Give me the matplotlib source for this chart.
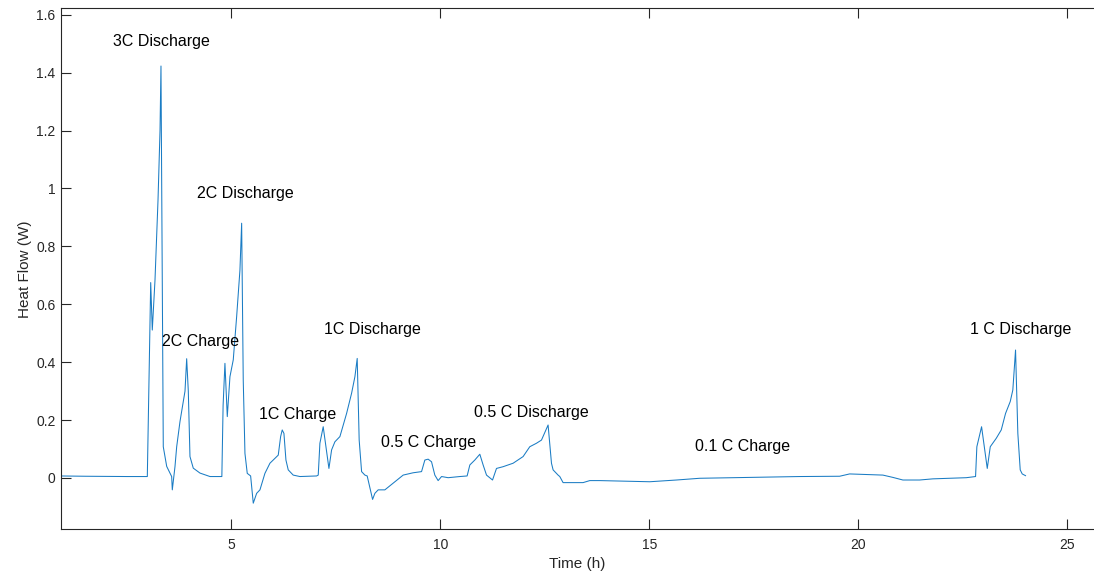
import matplotlib
matplotlib.use("Agg")
import matplotlib.pyplot as plt

# Calorimeter heat flow over a sequence of charge / discharge steps
time_h = [
    0.90, 1.50, 2.50, 2.986, 3.067, 3.105, 3.170, 3.242, 3.290, 3.313,
    3.344, 3.368, 3.450, 3.529, 3.569, 3.584, 3.648, 3.689, 3.768, 3.847,
    3.888, 3.928, 3.967, 4.007, 4.086, 4.246, 4.486, 4.770, 4.800, 4.844,
    4.900, 4.964, 5.043, 5.124, 5.203, 5.244, 5.282, 5.323, 5.378, 5.459,
    5.522, 5.603, 5.682, 5.801, 5.921, 6.120, 6.177, 6.215, 6.256, 6.304,
    6.359, 6.478, 6.639, 7.038, 7.077, 7.117, 7.196, 7.333, 7.397, 7.476,
    7.596, 7.756, 7.876, 7.955, 8.010, 8.057, 8.115, 8.194, 8.249, 8.378,
    8.433, 8.512, 8.672, 8.871, 9.110, 9.349, 9.550, 9.629, 9.708, 9.789,
    9.868, 9.947, 10.029, 10.187, 10.467, 10.641, 10.706, 10.825, 10.945, 11.024,
    11.105, 11.249, 11.344, 11.502, 11.742, 11.981, 12.141, 12.301, 12.421, 12.579,
    12.660, 12.699, 12.818, 12.859, 12.938, 13.416, 13.577, 13.816, 15.012, 15.651,
    16.208, 17.404, 18.600, 19.557, 19.796, 20.593, 20.833, 21.072, 21.471, 21.789,
    22.589, 22.811, 22.842, 22.955, 23.091, 23.163, 23.306, 23.426, 23.529, 23.641,
    23.703, 23.768, 23.823, 23.880, 23.928, 24.007,
]
heat_flow_w = [
    0.007, 0.006, 0.005, 0.005, 0.675, 0.511, 0.684, 0.960, 1.200, 1.423,
    0.684, 0.108, 0.040, 0.017, 0.005, -0.041, 0.039, 0.108, 0.195, 0.265,
    0.300, 0.412, 0.300, 0.074, 0.034, 0.017, 0.005, 0.005, 0.250, 0.396,
    0.212, 0.350, 0.408, 0.557, 0.718, 0.880, 0.338, 0.085, 0.016, 0.007,
    -0.087, -0.053, -0.041, 0.016, 0.051, 0.079, 0.143, 0.166, 0.154, 0.062,
    0.028, 0.010, 0.005, 0.007, 0.010, 0.120, 0.177, 0.033, 0.097, 0.125,
    0.143, 0.223, 0.293, 0.350, 0.413, 0.131, 0.022, 0.010, 0.007, -0.074,
    -0.053, -0.041, -0.041, -0.018, 0.010, 0.018, 0.022, 0.062, 0.065, 0.056,
    0.010, -0.009, 0.005, 0.001, 0.005, 0.007, 0.045, 0.062, 0.082, 0.045,
    0.010, -0.007, 0.033, 0.039, 0.051, 0.074, 0.108, 0.120, 0.131, 0.183,
    0.051, 0.028, 0.010, 0.005, -0.016, -0.016, -0.009, -0.009, -0.013, -0.007,
    -0.001, 0.002, 0.005, 0.006, 0.014, 0.010, 0.002, -0.007, -0.007, -0.003,
    0.001, 0.005, 0.108, 0.177, 0.033, 0.108, 0.137, 0.166, 0.223, 0.264,
    0.304, 0.442, 0.154, 0.028, 0.014, 0.008,
]

# Step labels: (text, time, heat flow) for the left edge of each label
step_labels = ["3C Discharge", "2C Discharge", "2C Charge", "1C Discharge", "1C Charge",
               "0.5 C Charge", "0.5 C Discharge", "0.1 C Charge", "1 C Discharge"]
label_time = [2.165, 4.175, 3.337, 7.213, 5.650, 8.577, 10.802, 16.089, 22.667]
label_flow = [1.509, 0.981, 0.471, 0.514, 0.220, 0.122, 0.226, 0.108, 0.514]

x_ticks = [5, 10, 15, 20, 25]
y_ticks = [0, 0.2, 0.4, 0.6, 0.8, 1, 1.2, 1.4, 1.6]
y_tick_labels = ["0", "0.2", "0.4", "0.6", "0.8", "1", "1.2", "1.4", "1.6"]

axis_gray = "#262626"
line_blue = "#1a7cc4"

fig = plt.figure(figsize=(10.94, 5.74), dpi=100)
ax = fig.add_axes([0.0558, 0.0779, 0.9442, 0.9077])

ax.plot(time_h, heat_flow_w, color=line_blue, linewidth=0.75)

ax.set_xlim(0.921, 25.646)
ax.set_ylim(-0.1772, 1.6225)
ax.set_xticks(x_ticks)
ax.set_yticks(y_ticks)
ax.set_yticklabels(y_tick_labels)

for side in ("left", "bottom", "top"):
    ax.spines[side].set_color(axis_gray)
    ax.spines[side].set_linewidth(0.8)
ax.spines["right"].set_visible(False)

ax.tick_params(axis="both", which="major", direction="in", length=7.2, width=0.8,
               color=axis_gray, labelcolor=axis_gray, labelsize=10, pad=4)
ax.tick_params(axis="x", top=True, pad=6)
ax.tick_params(axis="y", right=False)
for lbl in ax.get_xticklabels() + ax.get_yticklabels():
    lbl.set_fontfamily("Liberation Sans")

ax.set_xlabel("Time (h)", fontsize=11, color=axis_gray, family="Liberation Sans", labelpad=4)
ax.set_ylabel("Heat Flow (W)", fontsize=11, color=axis_gray, family="Liberation Sans", labelpad=3)

for text, tx, ty in zip(step_labels, label_time, label_flow):
    ax.text(tx, ty, text, ha="left", va="center", fontsize=11.5,
            family="Liberation Sans", color="black")

fig.savefig("out.png", dpi=100)
